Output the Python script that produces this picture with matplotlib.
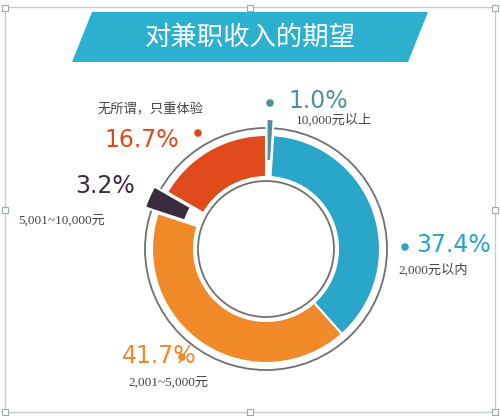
import matplotlib
matplotlib.use("Agg")
import matplotlib.pyplot as plt
from matplotlib.patches import Polygon, Rectangle, Circle, Wedge
import numpy as np

plt.rcParams['font.family'] = ['Noto Sans CJK SC', 'DejaVu Sans']

title = "对兼职收入的期望"
categories = ["10,000元以上", "2,000元以内", "2,001~5,000元", "5,001~10,000元", "无所谓，只重体验"]
values = [1.0, 37.4, 41.7, 3.2, 16.7]
colors = ["#4f8fa3", "#2ba6cb", "#f0892a", "#3b2b3f", "#df4a1d"]
explode = [16, 0, 0, 14, 0]

fig = plt.figure(figsize=(5, 4.2), dpi=100)
ax = fig.add_axes([0, 0, 1, 1])
ax.set_xlim(0, 500); ax.set_ylim(0, 420); ax.axis('off')
H = lambda py: 420 - py

ax.add_patch(Rectangle((5, H(412)), 490, 405, fill=False, ec="#c8ccd0", lw=1))
for (x, y) in [(5, 8), (495, 8), (5, 412), (495, 412), (250, 412), (5, 210), (495, 210), (250, 8)]:
    ax.add_patch(Rectangle((x - 3, H(y) - 3), 6, 6, fc="white", ec="#9aa", lw=0.8, zorder=6))
ax.add_patch(Polygon([(92, H(12)), (428, H(12)), (408, H(62)), (72, H(62))], closed=True,
                     fc="#2db0cf", ec="none"))
ax.text(250, H(37), title, color="white", fontsize=19, ha="center", va="center")

cx, cy = 266, H(249)
R, r = 114, 72
ax.add_patch(Circle((cx, cy), 121, fc="none", ec="#707070", lw=1.3))
ang = 90.0
total = sum(values)
for v, c, e in zip(values, colors, explode):
    a2 = ang
    a1 = ang - v / total * 360
    mid = np.radians((a1 + a2) / 2)
    ox, oy = cx + e * np.cos(mid), cy + e * np.sin(mid)
    ax.add_patch(Wedge((ox, oy), R, a1, a2, width=R - r, fc=c, ec="white", lw=1.5, zorder=3))
    ang = a1
ax.add_patch(Circle((cx, cy), 68, fc="white", ec="#707070", lw=1.3, zorder=4))

big = ['Liberation Sans Narrow', 'DejaVu Sans']
small = ['Liberation Serif', 'Noto Sans CJK SC']
labels = [
    (f"{values[0]:.1f}%", categories[0], 288, 101, 296, 120, colors[0], 270, 103),
    (f"{values[1]:.1f}%", categories[1], 416, 245, 398, 270, colors[1], 405, 247),
    (f"{values[2]:.1f}%", categories[2], 122, 356, 128, 383, colors[2], 182, 357),
    (f"{values[3]:.1f}%", categories[3], 75, 186, 18, 221, colors[3], None, None),
    (f"{values[4]:.1f}%", categories[4], 104, 140, 98, 110, colors[4], 198, 133),
]
for pct, cat, px, py, lx, ly, c, dx, dy in labels:
    ax.text(px, H(py), pct, color=c, fontsize=17, ha="left", va="center", family=big)
    ax.text(lx, H(ly), cat, color="#444444", fontsize=9.5, ha="left", va="center", family=small)
    if dx is not None:
        ax.add_patch(Circle((dx, H(dy)), 3.8, fc=c, ec="none"))

fig.savefig("out.png", dpi=100)
